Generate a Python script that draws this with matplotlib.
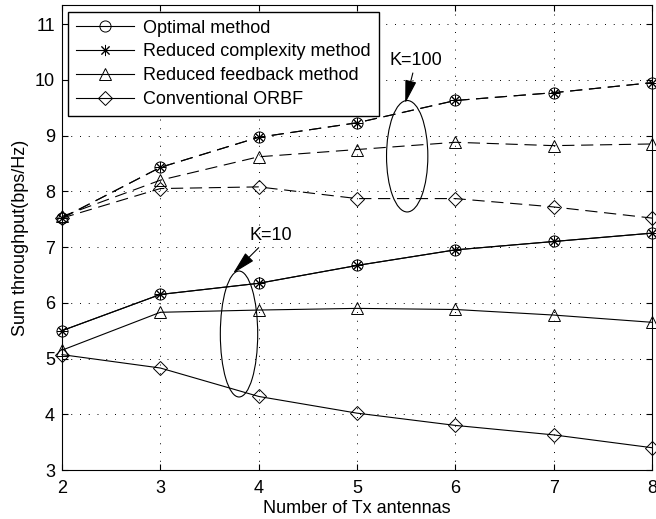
import matplotlib.pyplot as plt
from matplotlib.patches import Ellipse

plt.rcParams['font.family'] = ['Liberation Sans', 'DejaVu Sans']

# 数据
antennas = [2, 3, 4, 5, 6, 7, 8]

optimal_k10 = [5.50, 6.15, 6.35, 6.67, 6.95, 7.10, 7.25]
reduced_cx_k10 = [5.50, 6.15, 6.35, 6.67, 6.95, 7.10, 7.25]
reduced_fb_k10 = [5.15, 5.83, 5.87, 5.90, 5.88, 5.78, 5.65]
orbf_k10 = [5.07, 4.83, 4.32, 4.02, 3.80, 3.63, 3.40]

optimal_k100 = [7.52, 8.43, 8.97, 9.23, 9.63, 9.77, 9.95]
reduced_cx_k100 = [7.52, 8.43, 8.97, 9.23, 9.63, 9.77, 9.95]
reduced_fb_k100 = [7.55, 8.20, 8.62, 8.75, 8.88, 8.82, 8.85]
orbf_k100 = [7.52, 8.05, 8.08, 7.87, 7.87, 7.72, 7.52]

labels = ['Optimal method', 'Reduced complexity method',
          'Reduced feedback method', 'Conventional ORBF']

fig = plt.figure(figsize=(6.56, 5.19), dpi=100)
ax = fig.add_axes([0.0945, 0.0944, 0.8995, 0.8956])

markers = ['o', (8, 2, 0), '^', 'D']
sizes = [8, 8, 9, 7]
k10 = [optimal_k10, reduced_cx_k10, reduced_fb_k10, orbf_k10]
k100 = [optimal_k100, reduced_cx_k100, reduced_fb_k100, orbf_k100]

for vals, m, s, lab in zip(k10, markers, sizes, labels):
    ax.plot(antennas, vals, color='black', linewidth=0.8, linestyle='-',
            marker=m, markersize=s, markerfacecolor='none',
            markeredgecolor='black', markeredgewidth=0.7, label=lab,
            clip_on=False)

for vals, m, s in zip(k100, markers, sizes):
    ax.plot(antennas, vals, color='black', linewidth=0.8, linestyle=(0, (11, 6)),
            marker=m, markersize=s, markerfacecolor='none',
            markeredgecolor='black', markeredgewidth=0.7, clip_on=False)

# 椭圆标记
ax.add_patch(Ellipse((5.51, 8.63), 0.42, 2.0, fill=False, color='black', linewidth=0.8))
ax.add_patch(Ellipse((3.80, 5.44), 0.38, 2.26, fill=False, color='black', linewidth=0.8))

arrow = dict(arrowstyle='-|>,head_length=0.9,head_width=0.22', color='black',
             linewidth=0.8, mutation_scale=16, shrinkA=1, shrinkB=0)
ax.annotate('K=100', xy=(5.49, 9.58), xytext=(5.60, 10.35), ha='center', va='center',
            fontsize=13, arrowprops=arrow)
ax.annotate('K=10', xy=(3.74, 6.53), xytext=(4.125, 7.21), ha='center', va='center',
            fontsize=13, arrowprops=arrow)

ax.set_xlim(2, 8)
ax.set_ylim(3, 11.34)
ax.set_xticks(antennas)
ax.set_yticks([3, 4, 5, 6, 7, 8, 9, 10, 11])
ax.tick_params(direction='in', top=True, right=True, labelsize=13, length=4)
ax.tick_params(axis='x', pad=7)
ax.tick_params(axis='y', pad=5)
ax.grid(True, linestyle=(0, (1, 8)), color='black', linewidth=0.7)

ax.set_xlabel('Number of Tx antennas', fontsize=13, labelpad=2)
ax.set_ylabel('Sum throughput(bps/Hz)', fontsize=13, labelpad=4)

leg = ax.legend(loc='upper left', fontsize=13, frameon=True, fancybox=False,
                edgecolor='black', framealpha=1, handlelength=3.2,
                borderaxespad=0.35, labelspacing=0.38, borderpad=0.45,
                handletextpad=0.5)
leg.get_frame().set_linewidth(1.0)

plt.savefig('out.png', dpi=100)
